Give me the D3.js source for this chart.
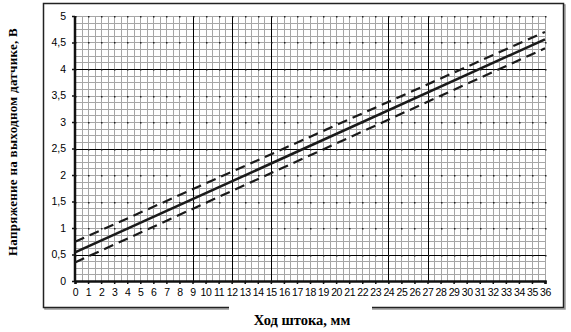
<!DOCTYPE html>
<meta charset="utf-8">
<style>
    body { margin: 0; background: #fff; }
    .tick text { font-family: "Liberation Sans", Arial, sans-serif; font-size: 10.5px; fill: #000; }
    .title { font-family: "Liberation Serif", "Times New Roman", serif; font-weight: bold; fill: #000; }
</style>
<svg width="571" height="332"></svg>
<script src="https://cdn.jsdelivr.net/npm/d3@7"></script>
<script>

    // stroke (mm) at the two ends of each line
    var stroke = [0, 36];
    var nominal = [0.54, 4.56];
    var upper = [0.74, 4.70];
    var lower = [0.35, 4.39];

    var xTicks = d3.range(0, 37, 1);
    var yTicks = [0, 0.5, 1, 1.5, 2, 2.5, 3, 3.5, 4, 4.5, 5];
    var xMajor = [9, 12, 15, 24, 27];   // heavier vertical grid lines
    var yMajor = [0.5, 2.5, 4];         // heavier horizontal grid lines

    var svg = d3.select("svg");

    var x = d3.scaleLinear().domain([0, 36]).range([75, 545]);
    var y = d3.scaleLinear().domain([0, 5]).range([281, 16]);

    // outer frame with a little shadow
    svg.append("rect")
            .attr("x", 45).attr("y", 5).attr("width", 520).attr("height", 304)
            .attr("fill", "none").attr("stroke", "#999").attr("stroke-width", 1.5);
    svg.append("rect")
            .attr("x", 43.5).attr("y", 3.5).attr("width", 520).attr("height", 304)
            .attr("fill", "#fff").attr("stroke", "#222").attr("stroke-width", 1.5);

    // minor grid
    var g = svg.append("g");
    g.selectAll(".vx").data(d3.range(0, 36.01, 0.5)).enter().append("line")
            .attr("x1", d => Math.round(x(d)) + 0.5).attr("x2", d => Math.round(x(d)) + 0.5)
            .attr("y1", y(5)).attr("y2", y(0))
            .attr("stroke", "#a6a6a6").attr("stroke-width", 1);
    g.selectAll(".hy").data(d3.range(0, 5.01, 0.125)).enter().append("line")
            .attr("y1", d => Math.round(y(d)) + 0.5).attr("y2", d => Math.round(y(d)) + 0.5)
            .attr("x1", x(0)).attr("x2", x(36))
            .attr("stroke", "#a6a6a6").attr("stroke-width", 1);

    // major grid
    g.selectAll(".mx").data(xMajor).enter().append("line")
            .attr("x1", d => Math.round(x(d)) + 0.5).attr("x2", d => Math.round(x(d)) + 0.5)
            .attr("y1", y(5)).attr("y2", y(0))
            .attr("stroke", "#000").attr("stroke-width", 1);
    g.selectAll(".my").data(yMajor).enter().append("line")
            .attr("y1", d => Math.round(y(d)) + 0.5).attr("y2", d => Math.round(y(d)) + 0.5)
            .attr("x1", x(0)).attr("x2", x(36))
            .attr("stroke", "#000").attr("stroke-width", 1);

    // dots at whole mm / half volt
    var dots = [];
    xTicks.forEach(function (a) { yTicks.forEach(function (b) { dots.push([a, b]); }); });
    g.selectAll(".dot").data(dots).enter().append("rect")
            .attr("x", d => Math.round(x(d[0]))).attr("y", d => Math.round(y(d[1])))
            .attr("width", 1.5).attr("height", 1.5).attr("fill", "#222");

    // axes
    var xAxis = d3.axisBottom(x).tickValues(xTicks).tickSize(3).tickPadding(5).tickFormat(d3.format("d"));
    var yAxis = d3.axisLeft(y).tickValues(yTicks).tickSize(3).tickPadding(6)
            .tickFormat(d => String(d).replace(".", ","));

    var gx = svg.append("g").attr("transform", "translate(0," + y(0) + ")").call(xAxis);
    var gy = svg.append("g").attr("transform", "translate(" + x(0) + ",0)").call(yAxis);
    [gx, gy].forEach(function (a) {
        a.select(".domain").attr("stroke", "#111").attr("stroke-width", 2.5);
        a.selectAll(".tick line").attr("stroke", "#111").attr("stroke-width", 1.5);
    });
    gx.selectAll(".tick text").attr("letter-spacing", "-0.4px");
    gy.select(".domain").attr("d", "M0," + y(5) + "V" + (y(0) + 1));

    // lines
    var line = d3.line()
            .x((d, i) => x(stroke[i]))
            .y(d => y(d));

    svg.append("path").datum(nominal).attr("d", line)
            .attr("fill", "none").attr("stroke", "#1a1a1a").attr("stroke-width", 2.6);
    [upper, lower].forEach(function (s) {
        svg.append("path").datum(s).attr("d", line)
                .attr("fill", "none").attr("stroke", "#1a1a1a").attr("stroke-width", 2.2)
                .attr("stroke-dasharray", "10,6");
    });

    // titles
    svg.append("rect").attr("x", 229).attr("y", 306).attr("width", 143).attr("height", 6).attr("fill", "#fff");
    svg.append("text").attr("class", "title")
            .attr("x", 302).attr("y", 325).attr("text-anchor", "middle")
            .style("font-size", "14.5px")
            .text("Ход штока, мм");
    svg.append("text").attr("class", "title")
            .attr("transform", "translate(17,142) rotate(-90)")
            .attr("text-anchor", "middle")
            .style("font-size", "13px").style("letter-spacing", "0.3px")
            .text("Напряжение на выходном датчике, В");

</script>
